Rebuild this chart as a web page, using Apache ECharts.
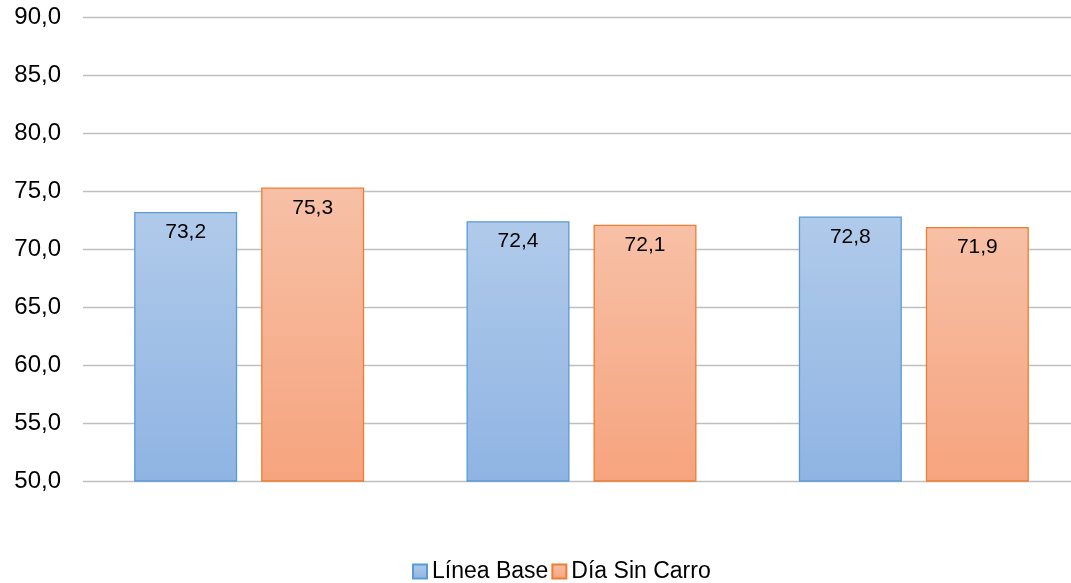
<!DOCTYPE html>
<html><head><meta charset="utf-8">
<script src="https://cdn.jsdelivr.net/npm/echarts@6/dist/echarts.min.js"></script>
<style>html,body{margin:0;padding:0;background:#fff;overflow:hidden;width:1071px;height:583px}#c{width:1080px;height:583px}</style>
</head><body><div id="c"></div>
<script>
const categories = ["1", "2", "3"];
const seriesNames = ["Línea Base", "Día Sin Carro"];
const lineaBase = [73.2, 72.4, 72.8];
const diaSinCarro = [75.3, 72.1, 71.9];
const yTicks = [50, 55, 60, 65, 70, 75, 80, 85, 90];

const fmt = v => v.toFixed(1).replace('.', ',');
const grad = (a, b) => new echarts.graphic.LinearGradient(0, 0, 0, 1, [{offset: 0, color: a}, {offset: 1, color: b}]);
const font = "Liberation Sans, Arial, sans-serif";

const chart = echarts.init(document.getElementById('c'), null, {renderer: 'canvas'});
chart.setOption({
  animation: false,
  grid: {left: 83, top: 17, height: 464, right: 0, containLabel: false},
  xAxis: {type: 'category', data: categories, axisLine: {show: false}, axisTick: {show: false}, axisLabel: {show: false}},
  yAxis: {type: 'value', min: yTicks[0], max: yTicks[yTicks.length - 1], interval: 5,
    axisLine: {show: false}, axisTick: {show: false},
    axisLabel: {formatter: fmt, color: '#000', fontSize: 24, fontFamily: font, margin: 22},
    splitLine: {lineStyle: {color: '#bfbfbf', width: 1.3}}},
  legend: {bottom: 0, left: 412, padding: 0, itemWidth: 14, itemHeight: 14, itemGap: 3, icon: 'rect',
    textStyle: {fontSize: 23, fontFamily: font, color: '#000'},
    data: seriesNames},
  series: [
    {name: seriesNames[0], type: 'bar', data: lineaBase, barWidth: 103, barGap: '23.3%',
      itemStyle: {color: grad('#b0caea', '#8fb4e3'), borderColor: '#5b9bd5', borderWidth: 1.3},
      label: {show: true, position: 'insideTop', distance: 10, formatter: p => fmt(p.value), color: '#000', fontSize: 21, fontFamily: font}},
    {name: seriesNames[1], type: 'bar', data: diaSinCarro, barWidth: 103,
      itemStyle: {color: grad('#f7c0a6', '#f6a47e'), borderColor: '#ed7d31', borderWidth: 1.3},
      label: {show: true, position: 'insideTop', distance: 10, formatter: p => fmt(p.value), color: '#000', fontSize: 21, fontFamily: font}}
  ]
});
</script></body></html>
